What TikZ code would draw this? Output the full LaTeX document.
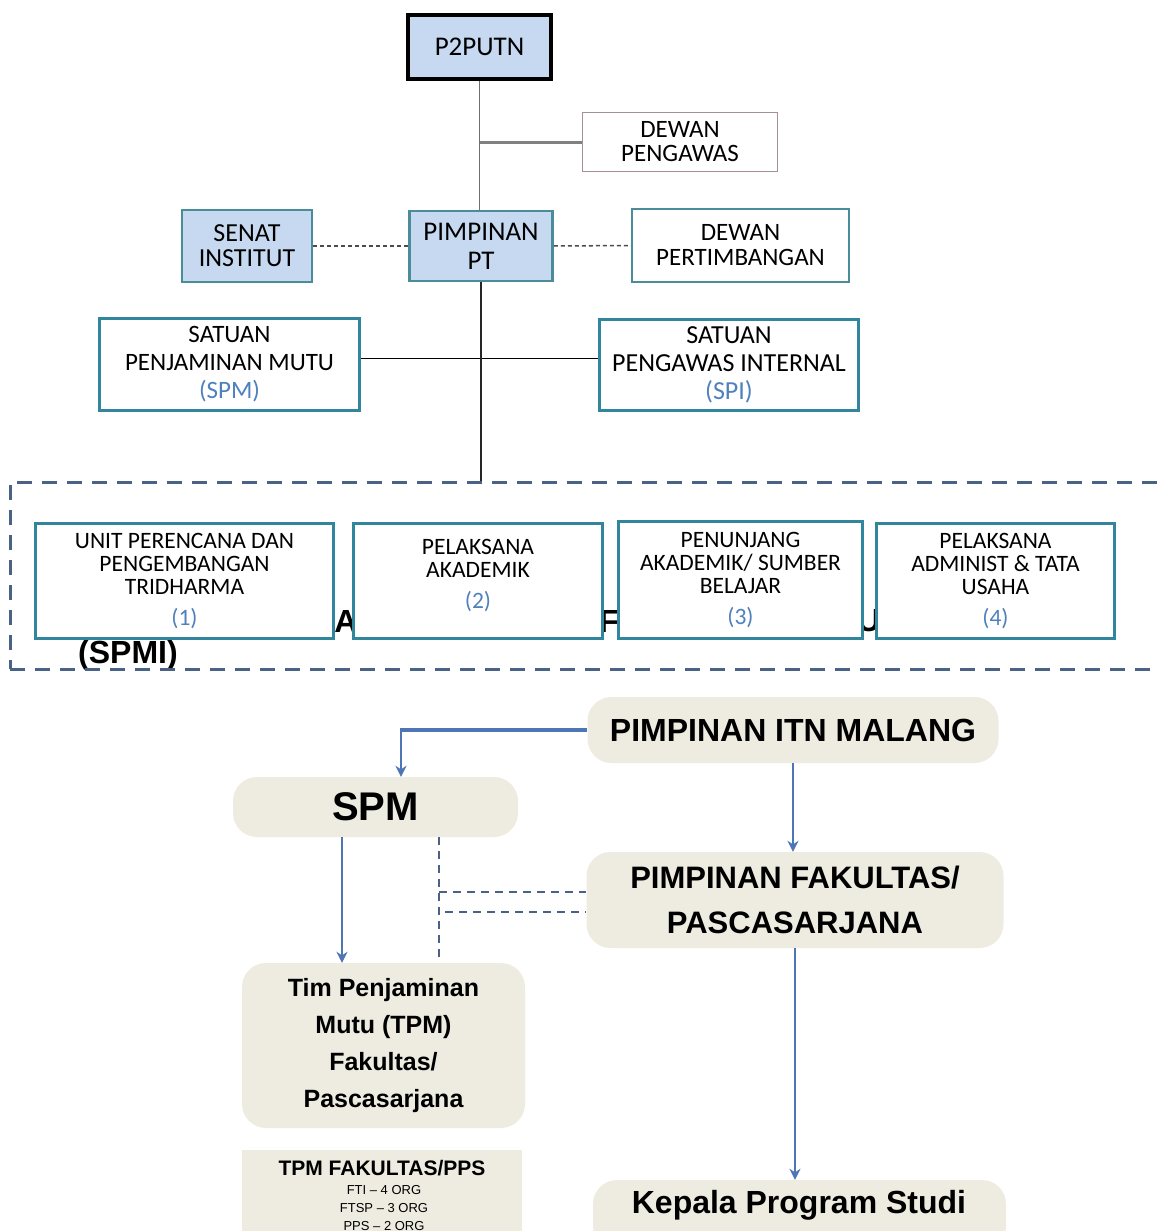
\documentclass[tikz,border=0pt]{standalone}
\usepackage{fontspec}
\setmainfont{Carlito}
\newfontfamily\arialf{Liberation Sans}
\usetikzlibrary{arrows.meta}
\definecolor{lblue}{HTML}{C6D9F1}
\definecolor{tealb}{HTML}{31859C}
\definecolor{tealg}{HTML}{4A8C99}
\definecolor{pinkg}{HTML}{A58E94}
\definecolor{numblue}{HTML}{4F81BD}
\definecolor{dashc}{HTML}{4A6285}
\definecolor{beige}{HTML}{EEECE1}
\definecolor{arrowb}{HTML}{4F76B4}
\definecolor{linegray}{HTML}{707070}
\newcommand\myfs[2]{\fontsize{#1pt}{#2pt}\selectfont}
\newcommand\numc[1]{\textcolor{numblue}{#1}}
\begin{document}
\begin{tikzpicture}[x=1pt,y=-1pt,
  orgbox/.style={draw, rectangle, align=center, inner sep=0pt},
  bluebox/.style={orgbox, fill=lblue},
  unitbox/.style={orgbox, draw=tealb, line width=3pt, fill=white, font=\myfs{23.5}{23}},
  pill/.style={rectangle, rounded corners=24pt, fill=beige, inner sep=0pt, align=center},
  bluearrow/.style={draw=arrowb, line width=2.2pt, -{Stealth[length=11pt,width=11pt]}},
  bdash/.style={draw=dashc, line width=2.5pt, dash pattern=on 8pt off 6pt},
  dotc/.style={draw=black!70, line width=1.5pt, dash pattern=on 4pt off 3pt},
  hid/.style={font=\arialf\bfseries\myfs{32}{32}, inner sep=0pt}
]
\useasboundingbox (0,0) rectangle (1159,1231);
\clip (0,0) rectangle (1159,1231);
\fill[white] (0,0) rectangle (1159,1231);

% ---------- upper chart ----------
\node[bluebox, draw=black, line width=4pt, minimum width=143pt, minimum height=64pt, font=\myfs{27}{27}] (p2putn) at (479.5,47) {P2PUTN};
\node[orgbox, draw=pinkg, line width=1.5pt, fill=white, minimum width=195pt, minimum height=59pt, font=\myfs{25}{24}] (dpengawas) at (680,142) {DEWAN\\PENGAWAS};
\node[bluebox, draw=tealg, line width=2.5pt, minimum width=130pt, minimum height=72pt, font=\myfs{26}{25}] (senat) at (247,246) {SENAT\\INSTITUT};
\node[bluebox, draw=tealg, line width=2.5pt, minimum width=143pt, minimum height=70pt, font=\myfs{27}{29}] (pimpinan) at (481,246) {PIMPINAN\\PT};
\node[orgbox, draw=tealg, line width=2.5pt, fill=white, minimum width=217pt, minimum height=73pt, font=\myfs{25}{25}] (dpertim) at (740.5,245.5) {DEWAN\\PERTIMBANGAN};
\node[orgbox, draw=tealb, line width=3pt, fill=white, minimum width=260pt, minimum height=92pt, font=\myfs{25}{28}] (spm) at (229.5,364.5) {SATUAN\\PENJAMINAN MUTU\\\numc{(SPM)}};
\node[orgbox, draw=tealb, line width=3pt, fill=white, minimum width=259pt, minimum height=91pt, font=\myfs{26}{28}] (spi) at (729,364.5) {SATUAN\\PENGAWAS INTERNAL\\\numc{(SPI)}};

\draw[linegray, line width=1.5pt] (p2putn.south) -- (p2putn.south |- pimpinan.north);
\coordinate (jp) at (p2putn.south |- dpengawas.west);
\draw[gray, line width=3pt] (jp) -- (dpengawas.west);
\draw[dotc] (senat.east) -- (pimpinan.west);
\draw[dotc] (pimpinan.east) -- (dpertim.west);
\draw[black, line width=1.3pt] ([yshift=6pt]spm.east) -- ([yshift=6pt]spi.west);

% partially hidden caption
\node[hid] (ha) at (346,621) {A};
\node[hid] (hf) at (609,621) {F};
\node[hid] (hu) at (869,621) {U};
\node[hid] (hspmi) at (128,655) {(SPMI)};

% dashed frame
\node[draw=dashc, line width=3pt, dash pattern=on 15pt off 10pt, rectangle, minimum width=1180pt, minimum height=187pt, inner sep=0pt] (spmiframe) at (600,575.5) {};
\draw[black!85, line width=1.3pt] (pimpinan.south) -- (pimpinan.south |- spmiframe.north);

\node[unitbox, minimum width=298pt, minimum height=115pt] (u1) at (184.5,581) {UNIT PERENCANA DAN\\PENGEMBANGAN\\TRIDHARMA\\[8pt]\numc{(1)}};
\node[unitbox, minimum width=249pt, minimum height=115pt] (u2) at (478,581) {PELAKSANA\\AKADEMIK\\[8pt]\numc{(2)}\\[-8pt]\mbox{}};
\node[unitbox, minimum width=244pt, minimum height=117pt] (u3) at (740.5,580) {PENUNJANG\\AKADEMIK/ SUMBER\\BELAJAR\\[8pt]\numc{(3)}};
\node[unitbox, minimum width=238pt, minimum height=115pt] (u4) at (995.5,581) {PELAKSANA\\ADMINIST \& TATA\\USAHA\\[8pt]\numc{(4)}};

% ---------- lower chart ----------
\node[pill, minimum width=411pt, minimum height=66pt, font=\arialf\bfseries\myfs{32}{32}] (itn) at (793,730) {PIMPINAN ITN MALANG};
\node[pill, minimum width=285pt, minimum height=60pt, font=\arialf\bfseries\myfs{40}{40}] (spm2) at (375.5,807) {SPM};
\node[pill, minimum width=417pt, minimum height=96pt, font=\arialf\bfseries\myfs{31}{45}] (fak) at (795,900) {PIMPINAN FAKULTAS/\\PASCASARJANA};
\node[pill, minimum width=283pt, minimum height=165pt, font=\arialf\bfseries\myfs{25}{36.7}] (tpm) at (383.5,1045.5) {Tim Penjaminan\\Mutu (TPM)\\Fakultas/\\Pascasarjana};
\node[rectangle, fill=beige, minimum width=280pt, minimum height=100pt, inner sep=0pt] (tpmf) at (382,1200) {};
\node[font=\arialf\bfseries\myfs{21}{21}, inner sep=0pt] (tpmft) at (382,1168) {TPM FAKULTAS/PPS};
\node[font=\arialf\myfs{13}{18}, align=center, inner sep=0pt] (tpmfs) at (384,1208) {FTI – 4 ORG\\FTSP – 3 ORG\\PPS – 2 ORG};
\node[pill, minimum width=413pt, minimum height=70pt] (kps) at (799.5,1215) {};
\node[font=\arialf\bfseries\myfs{32}{32}, inner sep=0pt] (kpst) at (799,1205) {Kepala Program Studi};

\coordinate (c1) at (401,730);
\draw[arrowb, line width=4pt] (itn.west) -- ([xshift=-1pt]c1);
\draw[bluearrow] (c1) -- (c1 |- spm2.north);
\draw[bluearrow] (itn.south) -- (itn.south |- fak.north);
\draw[bluearrow] (fak.south) -- (fak.south |- kps.north);
\coordinate (xa) at (342,0);
\draw[bluearrow] (spm2.south -| xa) -- (tpm.north -| xa);
\coordinate (xd) at (439,0);
\draw[bdash] (spm2.south -| xd) -- (tpm.north -| xd);
\coordinate (h1) at (439,892);
\draw[bdash, line width=2pt] (h1) -- (h1 -| fak.west);
\coordinate (h2) at (445,912);
\draw[bdash, line width=2pt] (h2) -- (h2 -| fak.west);
\end{tikzpicture}
\end{document}
